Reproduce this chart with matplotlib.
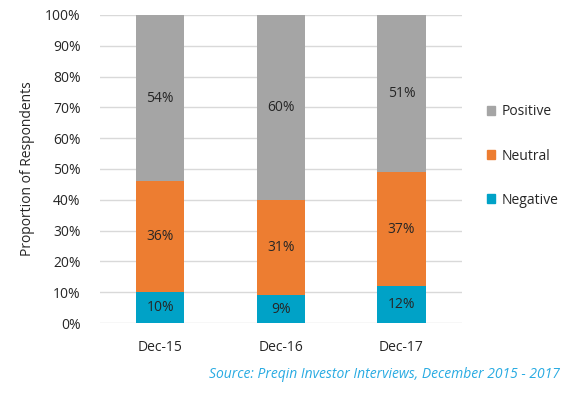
import matplotlib.pyplot as plt
from matplotlib.patches import Patch

plt.rcParams['font.family'] = ['Open Sans', 'DejaVu Sans']

periods = ['Dec-15', 'Dec-16', 'Dec-17']
negative = [10, 9, 12]
neutral = [36, 31, 37]
positive = [54, 60, 51]

c_neg = '#00A2C7'
c_neu = '#ED7D31'
c_pos = '#A5A5A5'
txt = '#262626'

fig = plt.figure(figsize=(5.68, 3.93), dpi=100)
ax = fig.add_axes([0.176, 0.178, 0.637, 0.784])

x = range(len(periods))
w = 0.4
bottoms2 = [a + b for a, b in zip(negative, neutral)]
ax.bar(x, negative, w, color=c_neg, zorder=3)
ax.bar(x, neutral, w, bottom=negative, color=c_neu, zorder=3)
ax.bar(x, positive, w, bottom=bottoms2, color=c_pos, zorder=3)

fs = 10
for i in x:
    ax.text(i, negative[i] / 2, f'{negative[i]}%', ha='center', va='center',
            fontsize=fs, color=txt, zorder=4)
    ax.text(i, negative[i] + neutral[i] / 2, f'{neutral[i]}%', ha='center',
            va='center', fontsize=fs, color=txt, zorder=4)
    ax.text(i, bottoms2[i] + positive[i] / 2, f'{positive[i]}%', ha='center',
            va='center', fontsize=fs, color=txt, zorder=4)

ax.set_xlim(-0.5, 2.5)
ax.set_ylim(0, 100)
ax.set_yticks(range(0, 101, 10))
ax.set_yticklabels([f'{v}%' for v in range(0, 101, 10)])
ax.set_xticks(list(x))
ax.set_xticklabels(periods)
ax.tick_params(axis='both', length=0, labelsize=fs, colors=txt)
ax.tick_params(axis='x', pad=12)
ax.tick_params(axis='y', pad=14)
ax.grid(axis='y', color='#D9D9D9', linewidth=1, zorder=0)
for s in ax.spines.values():
    s.set_visible(False)
ax.set_ylabel('Proportion of Respondents', fontsize=fs, color=txt, labelpad=7)

handles = [Patch(color=c_pos, label='Positive'),
           Patch(color=c_neu, label='Neutral'),
           Patch(color=c_neg, label='Negative')]
fig.legend(handles=handles, loc='center left', bbox_to_anchor=(0.835, 0.603),
           frameon=False, fontsize=fs, handlelength=0.6, handleheight=0.6,
           handletextpad=0.5, labelspacing=2.1, labelcolor=txt)

fig.text(0.985, 0.048, 'Source: Preqin Investor Interviews, December 2015 - 2017',
         ha='right', va='center', fontsize=10, style='italic', color='#29ABE2')

fig.savefig('out.png', dpi=100)
